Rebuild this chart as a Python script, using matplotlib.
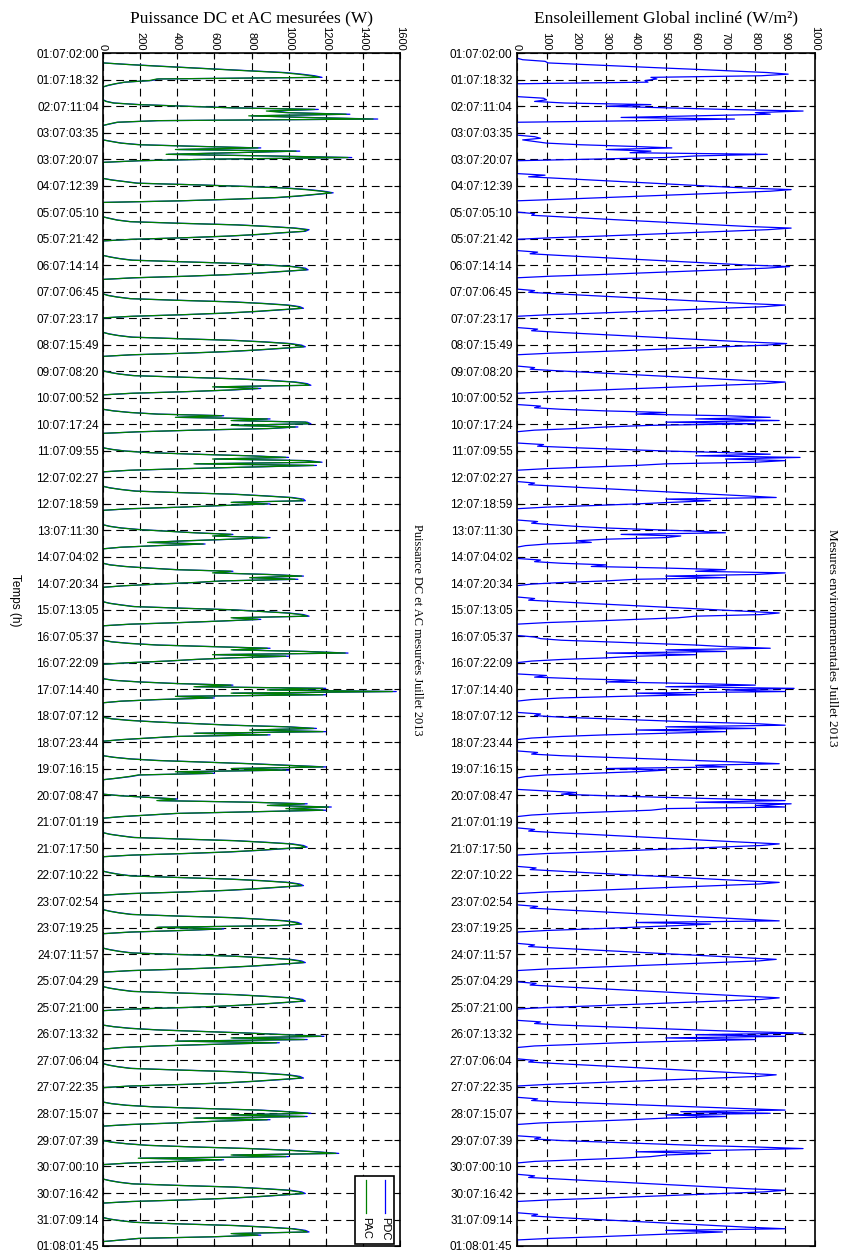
import numpy as np
import matplotlib
matplotlib.use("Agg")
import matplotlib.pyplot as plt
from matplotlib.patches import Rectangle
from matplotlib.lines import Line2D

# jours de juillet 2013, mesures lues heure par heure sur le graphe
days = list(range(1, 32))
pw_hours = [7, 8, 9, 10, 11, 12, 13, 14, 15, 16, 17, 18, 19, 20, 21, 22, 23]
irr_hours = [5, 6, 7, 8, 9, 10, 11, 12, 13, 14, 15, 16, 17, 18, 19, 20, 21, 22]

pdc = [
    [0, 0, 140, 300, 470, 640, 810, 980, 1070, 1140, 1180, 300, 260, 120, 70, 30, 0],
    [0, 20, 60, 200, 450, 700, 1160, 900, 1000, 1330, 800, 1100, 1480, 300, 80, 40, 0],
    [0, 0, 50, 100, 200, 500, 850, 400, 1060, 700, 350, 900, 1340, 600, 200, 0, 0],
    [0, 0, 50, 120, 190, 500, 770, 990, 1110, 1190, 1240, 1150, 1060, 940, 710, 420, 0],
    [0, 0, 40, 80, 150, 420, 730, 900, 1040, 1110, 1090, 960, 840, 680, 450, 160, 0],
    [0, 0, 40, 90, 160, 430, 720, 890, 1030, 1090, 1105, 980, 850, 690, 460, 170, 0],
    [0, 0, 30, 80, 150, 400, 700, 870, 1000, 1060, 1080, 960, 830, 670, 440, 160, 0],
    [0, 0, 35, 85, 160, 420, 710, 880, 1010, 1070, 1090, 970, 840, 680, 450, 160, 0],
    [0, 0, 40, 90, 170, 440, 730, 900, 1040, 1100, 1120, 600, 850, 690, 450, 160, 0],
    [0, 0, 60, 150, 300, 650, 400, 900, 700, 1100, 1120, 700, 1050, 900, 500, 200, 0],
    [0, 0, 50, 120, 250, 500, 800, 1000, 600, 1100, 1180, 500, 1150, 800, 450, 150, 0],
    [0, 0, 40, 100, 180, 430, 720, 880, 1020, 1080, 1090, 700, 900, 650, 430, 150, 0],
    [0, 0, 40, 100, 200, 350, 500, 700, 600, 900, 700, 450, 250, 550, 300, 100, 0],
    [0, 0, 40, 120, 250, 400, 700, 600, 900, 1080, 800, 1050, 650, 500, 300, 120, 0],
    [0, 0, 40, 100, 170, 420, 700, 850, 1000, 1080, 1110, 700, 850, 650, 420, 150, 0],
    [0, 0, 50, 150, 300, 600, 900, 700, 1100, 1320, 600, 1000, 700, 500, 350, 150, 0],
    [0, 0, 60, 200, 400, 700, 500, 1200, 900, 1580, 700, 1200, 400, 600, 300, 100, 0],
    [0, 0, 50, 150, 300, 500, 700, 1000, 1150, 800, 1200, 500, 900, 400, 250, 100, 0],
    [0, 0, 60, 150, 300, 550, 800, 1000, 1200, 700, 1000, 400, 600, 200, 150, 80, 0],
    [0, 0, 100, 250, 400, 300, 800, 1100, 900, 1230, 1000, 1200, 800, 400, 250, 100, 0],
    [0, 0, 40, 100, 170, 430, 720, 880, 1020, 1080, 1100, 980, 850, 690, 450, 160, 0],
    [0, 0, 40, 90, 160, 420, 700, 870, 1000, 1060, 1080, 960, 830, 670, 440, 150, 0],
    [0, 0, 40, 90, 160, 410, 700, 860, 990, 1050, 1070, 950, 300, 650, 430, 150, 0],
    [0, 0, 40, 90, 160, 420, 710, 870, 1010, 1070, 1090, 970, 840, 680, 450, 160, 0],
    [0, 0, 40, 95, 165, 420, 715, 875, 1015, 1075, 1090, 975, 845, 685, 455, 160, 0],
    [0, 0, 60, 150, 300, 550, 800, 1000, 1190, 700, 1100, 400, 950, 600, 300, 100, 0],
    [0, 0, 35, 85, 155, 410, 700, 865, 1000, 1060, 1080, 960, 830, 670, 440, 150, 0],
    [0, 0, 50, 130, 280, 550, 850, 1000, 1120, 700, 1100, 500, 900, 600, 400, 150, 0],
    [0, 0, 50, 130, 250, 500, 800, 1000, 1150, 1270, 700, 1000, 200, 650, 400, 150, 0],
    [0, 0, 40, 90, 165, 420, 710, 875, 1010, 1070, 1090, 970, 840, 680, 450, 160, 0],
    [0, 0, 40, 100, 180, 430, 720, 890, 1030, 1090, 1110, 700, 850, 600, 200, 100, 0],
]

pac = [
    [0, 0, 135, 290, 460, 625, 790, 960, 1050, 1120, 1165, 290, 250, 115, 65, 25, 0],
    [0, 15, 55, 190, 440, 685, 1140, 880, 985, 1310, 785, 1085, 1455, 290, 75, 35, 0],
    [0, 0, 45, 95, 190, 490, 835, 390, 1040, 685, 340, 885, 1320, 590, 190, 0, 0],
    [0, 0, 45, 115, 180, 490, 755, 970, 1090, 1175, 1230, 1135, 1045, 925, 695, 410, 0],
    [0, 0, 35, 75, 145, 410, 715, 885, 1025, 1100, 1080, 945, 825, 665, 440, 150, 0],
    [0, 0, 35, 85, 150, 420, 705, 875, 1015, 1075, 1095, 965, 835, 675, 450, 160, 0],
    [0, 0, 25, 75, 145, 390, 685, 855, 985, 1045, 1070, 945, 815, 655, 430, 150, 0],
    [0, 0, 30, 80, 150, 410, 695, 865, 995, 1055, 1080, 955, 825, 665, 440, 150, 0],
    [0, 0, 35, 85, 160, 430, 715, 885, 1025, 1085, 1110, 590, 835, 675, 440, 150, 0],
    [0, 0, 55, 145, 290, 640, 390, 885, 690, 1090, 1110, 690, 1035, 885, 490, 190, 0],
    [0, 0, 45, 115, 240, 490, 785, 985, 590, 1085, 1170, 490, 1135, 785, 440, 140, 0],
    [0, 0, 35, 95, 170, 420, 705, 865, 1005, 1065, 1080, 690, 885, 640, 420, 140, 0],
    [0, 0, 35, 95, 190, 340, 490, 690, 590, 885, 690, 440, 240, 540, 290, 95, 0],
    [0, 0, 35, 115, 240, 390, 690, 590, 885, 1070, 790, 1035, 640, 490, 290, 115, 0],
    [0, 0, 35, 95, 160, 410, 690, 835, 985, 1065, 1100, 690, 835, 640, 410, 140, 0],
    [0, 0, 45, 140, 290, 590, 885, 690, 1085, 1305, 590, 985, 690, 490, 340, 140, 0],
    [0, 0, 55, 190, 390, 690, 490, 1185, 885, 1560, 690, 1185, 390, 590, 290, 95, 0],
    [0, 0, 45, 140, 290, 490, 690, 985, 1135, 790, 1185, 490, 885, 390, 240, 95, 0],
    [0, 0, 55, 140, 290, 540, 785, 985, 1185, 690, 985, 390, 590, 190, 140, 75, 0],
    [0, 0, 95, 240, 390, 290, 785, 1085, 885, 1215, 985, 1185, 785, 390, 240, 95, 0],
    [0, 0, 35, 95, 160, 420, 705, 865, 1005, 1065, 1090, 965, 835, 675, 440, 150, 0],
    [0, 0, 35, 85, 150, 410, 685, 855, 985, 1045, 1070, 945, 815, 655, 430, 140, 0],
    [0, 0, 35, 85, 150, 400, 685, 845, 975, 1035, 1060, 935, 290, 640, 420, 140, 0],
    [0, 0, 35, 85, 150, 410, 695, 855, 995, 1055, 1080, 955, 825, 665, 440, 150, 0],
    [0, 0, 35, 90, 155, 410, 700, 860, 1000, 1060, 1080, 960, 830, 670, 445, 150, 0],
    [0, 0, 55, 140, 290, 540, 785, 985, 1175, 690, 1085, 390, 935, 590, 290, 95, 0],
    [0, 0, 30, 80, 145, 400, 685, 850, 985, 1045, 1070, 945, 815, 655, 430, 140, 0],
    [0, 0, 45, 125, 270, 540, 835, 985, 1105, 690, 1085, 490, 885, 590, 390, 140, 0],
    [0, 0, 45, 125, 240, 490, 785, 985, 1135, 1255, 690, 985, 190, 640, 390, 140, 0],
    [0, 0, 35, 85, 155, 410, 695, 860, 995, 1055, 1080, 955, 825, 665, 440, 150, 0],
    [0, 0, 35, 95, 170, 420, 705, 875, 1015, 1075, 1100, 690, 835, 590, 190, 95, 0],
]

irr = [
    [0, 20, 95, 105, 230, 350, 470, 600, 720, 840, 910, 820, 450, 470, 430, 440, 0, 0],
    [0, 90, 100, 60, 160, 450, 300, 500, 700, 960, 800, 850, 600, 350, 730, 420, 0, 0],
    [0, 60, 80, 20, 60, 100, 210, 380, 520, 300, 450, 380, 840, 600, 500, 250, 0, 0],
    [0, 95, 40, 145, 250, 350, 455, 560, 660, 765, 920, 850, 710, 570, 430, 290, 150, 0],
    [0, 60, 50, 150, 250, 355, 460, 565, 670, 775, 920, 840, 700, 560, 420, 280, 120, 0],
    [0, 70, 45, 140, 245, 350, 455, 560, 665, 770, 915, 835, 695, 555, 415, 275, 115, 0],
    [0, 60, 40, 135, 240, 345, 450, 555, 660, 765, 900, 830, 690, 550, 410, 270, 110, 0],
    [0, 70, 50, 140, 245, 350, 455, 560, 665, 770, 905, 835, 695, 555, 415, 275, 115, 0],
    [0, 60, 45, 140, 245, 350, 455, 560, 665, 770, 900, 830, 690, 550, 410, 270, 110, 0],
    [0, 80, 60, 150, 300, 500, 400, 700, 850, 600, 880, 500, 800, 450, 300, 200, 60, 0],
    [0, 90, 70, 200, 350, 500, 700, 850, 600, 950, 700, 900, 800, 500, 400, 250, 100, 0],
    [0, 60, 40, 140, 240, 350, 450, 560, 660, 770, 870, 500, 650, 520, 400, 260, 100, 0],
    [0, 70, 50, 120, 200, 300, 450, 600, 700, 350, 550, 500, 300, 200, 250, 100, 30, 0],
    [0, 80, 60, 150, 300, 250, 500, 700, 600, 900, 800, 500, 700, 400, 300, 150, 50, 0],
    [0, 60, 40, 140, 240, 350, 455, 560, 660, 765, 880, 820, 600, 540, 400, 260, 100, 0],
    [0, 60, 80, 150, 300, 450, 600, 700, 850, 500, 700, 300, 600, 400, 300, 150, 50, 0],
    [0, 100, 60, 200, 400, 300, 600, 800, 500, 930, 700, 900, 400, 600, 350, 150, 50, 0],
    [0, 80, 60, 150, 300, 450, 600, 800, 900, 500, 800, 400, 700, 500, 300, 150, 50, 0],
    [0, 70, 50, 150, 300, 450, 600, 750, 880, 600, 700, 300, 500, 400, 250, 100, 30, 0],
    [0, 100, 200, 150, 300, 500, 700, 900, 600, 920, 800, 900, 500, 450, 300, 150, 50, 0],
    [0, 60, 40, 135, 240, 345, 450, 555, 660, 765, 880, 820, 680, 540, 400, 260, 100, 0],
    [0, 65, 45, 140, 240, 345, 450, 555, 660, 765, 880, 815, 675, 535, 395, 255, 100, 0],
    [0, 70, 45, 140, 245, 350, 455, 560, 660, 765, 880, 400, 650, 530, 390, 250, 100, 0],
    [0, 60, 40, 135, 240, 345, 450, 555, 660, 760, 870, 810, 670, 530, 390, 250, 100, 0],
    [0, 65, 45, 140, 245, 350, 455, 560, 665, 770, 880, 820, 680, 540, 400, 260, 100, 0],
    [0, 80, 60, 150, 300, 450, 600, 750, 960, 600, 900, 500, 800, 550, 350, 200, 60, 0],
    [0, 60, 40, 135, 240, 345, 450, 555, 660, 760, 870, 810, 670, 530, 390, 250, 100, 0],
    [0, 70, 50, 150, 300, 450, 600, 750, 900, 550, 850, 500, 700, 500, 380, 240, 80, 0],
    [0, 80, 60, 150, 300, 450, 600, 800, 960, 700, 400, 650, 500, 450, 350, 200, 60, 0],
    [0, 60, 40, 140, 245, 350, 455, 560, 665, 770, 900, 830, 690, 550, 410, 270, 110, 0],
    [0, 70, 50, 140, 245, 350, 455, 560, 665, 770, 900, 500, 690, 550, 410, 270, 110, 0],
]

ytick_labels = [
    "01:07:02:00", "01:07:18:32", "02:07:11:04", "03:07:03:35", "03:07:20:07",
    "04:07:12:39", "05:07:05:10", "05:07:21:42", "06:07:14:14", "07:07:06:45",
    "07:07:23:17", "08:07:15:49", "09:07:08:20", "10:07:00:52", "10:07:17:24",
    "11:07:09:55", "12:07:02:27", "12:07:18:59", "13:07:11:30", "14:07:04:02",
    "14:07:20:34", "15:07:13:05", "16:07:05:37", "16:07:22:09", "17:07:14:40",
    "18:07:07:12", "18:07:23:44", "19:07:16:15", "20:07:08:47", "21:07:01:19",
    "21:07:17:50", "22:07:10:22", "23:07:02:54", "23:07:19:25", "24:07:11:57",
    "25:07:04:29", "25:07:21:00", "26:07:13:32", "27:07:06:04", "27:07:22:35",
    "28:07:15:07", "29:07:07:39", "30:07:00:10", "30:07:16:42", "31:07:09:14",
    "01:08:01:45",
]
pw_ticks = [0, 200, 400, 600, 800, 1000, 1200, 1400, 1600]
irr_ticks = [0, 100, 200, 300, 400, 500, 600, 700, 800, 900, 1000]


def to_hours(lab):
    d, m, hh, mm = [int(v) for v in lab.split(":")]
    if m == 8:
        d += 31
    return (d - 1) * 24 + hh + mm / 60.0


def series_time(hours):
    t = []
    for d in days:
        t.extend((d - 1) * 24 + h for h in hours)
    return np.array(t)


ypos = [to_hours(l) for l in ytick_labels]
t_pw = series_time(pw_hours)
t_irr = series_time(irr_hours)

SANS = "Liberation Sans"
SERIF = "Liberation Serif"

fig = plt.figure(figsize=(8.43, 12.57), dpi=100)
H = 1257.0
W = 843.0
bottom = 1 - 1246 / H
height = 1192.7 / H
ax1 = fig.add_axes([103 / W, bottom, 297 / W, height])
ax2 = fig.add_axes([516.7 / W, bottom, 298.3 / W, height])


def style(ax, xt):
    ax.set_xlim(xt[0], xt[-1])
    ax.set_ylim(ypos[-1], ypos[0])
    ax.set_xticks(xt)
    ax.set_xticklabels([str(v) for v in xt], fontfamily=SANS, fontsize=8)
    ax.set_yticks(ypos)
    ax.set_yticklabels(ytick_labels, fontfamily=SANS, fontsize=8.5)
    ax.tick_params(axis="both", direction="in", top=True, bottom=True,
                   left=True, right=True, labeltop=True, labelbottom=False,
                   length=4.5, width=0.8)
    ax.tick_params(axis="x", labelrotation=-90, pad=2)
    ax.tick_params(axis="y", pad=3)
    ax.grid(True, color="k", lw=0.8, ls=(0, (7, 4.5)))
    for s in ax.spines.values():
        s.set_linewidth(1.2)


ax1.plot(np.array(pdc).ravel(), t_pw, color="#0000ff", lw=0.9)
ax1.plot(np.array(pac).ravel(), t_pw, color="#008000", lw=0.9)
style(ax1, pw_ticks)

ax2.plot(np.array(irr).ravel(), t_irr, color="#0000ff", lw=0.9)
style(ax2, irr_ticks)

# legende tournee comme dans l'original
ax1.add_patch(Rectangle((0.848, 0.002), 0.133, 0.057, transform=ax1.transAxes,
                        fill=True, facecolor="white", edgecolor="k", lw=1.2,
                        zorder=5))
for xx, col, lab in [(0.951, "#0000ff", "PDC"), (0.887, "#008000", "PAC")]:
    ax1.add_line(Line2D([xx, xx], [0.028, 0.055], transform=ax1.transAxes,
                        color=col, lw=0.9, zorder=6))
    ax1.text(xx, 0.024, lab, transform=ax1.transAxes, rotation=-90,
             ha="center", va="top", fontfamily=SANS, fontsize=8, zorder=6)

fig.text(251.5 / W, 1 - 18 / H, "Puissance DC et AC mesurées (W)",
         ha="center", va="center", fontfamily=SERIF, fontsize=12.5)
fig.text(666 / W, 1 - 18 / H, "Ensoleillement Global incliné (W/m²)",
         ha="center", va="center", fontfamily=SERIF, fontsize=12.5)
fig.text(417 / W, 1 - 630 / H, "Puissance DC et AC mesurées Juillet 2013",
         rotation=-90, ha="center", va="center", fontfamily=SERIF, fontsize=8.9)
fig.text(832 / W, 1 - 638 / H, "Mesures environmementales Juillet 2013",
         rotation=-90, ha="center", va="center", fontfamily=SERIF, fontsize=9.5)
fig.text(15 / W, 1 - 600 / H, "Temps (h)", rotation=-90, ha="center",
         va="center", fontfamily=SANS, fontsize=8.5)

fig.savefig("out.png", dpi=100)
